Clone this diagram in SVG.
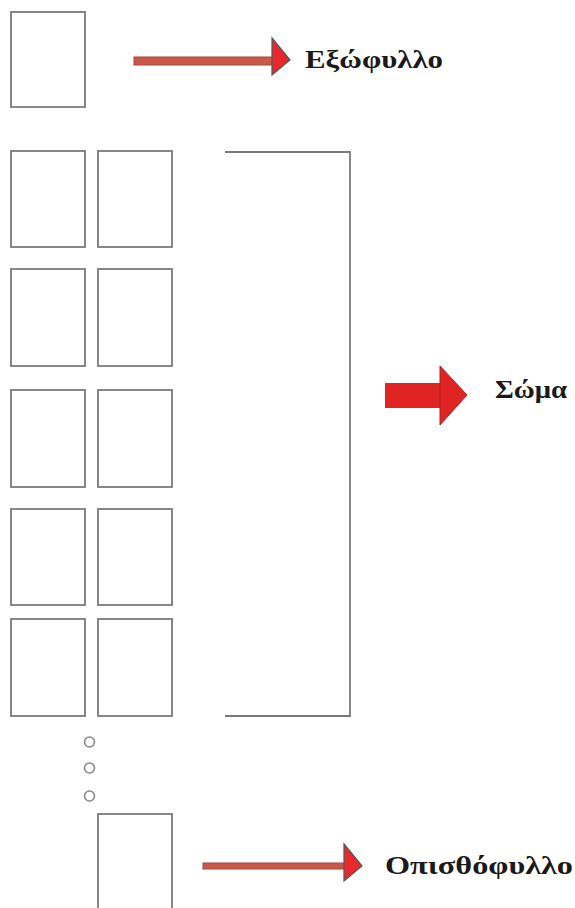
<svg xmlns="http://www.w3.org/2000/svg" width="575" height="908" viewBox="0 0 575 908">
<style>
.page{fill:#ffffff;stroke:#7a7a7a;stroke-width:1.8}
.br{fill:none;stroke:#7a7a7a;stroke-width:1.8}
.lbl{font-family:"Liberation Serif","DejaVu Serif",serif;font-weight:bold;fill:#1a1a1a;font-size:26px}
.shaft{fill:#c9584a;stroke:#a8473d;stroke-width:1}
.head{fill:#e8282a;stroke:#555;stroke-width:1.2}
.dot{fill:none;stroke:#888;stroke-width:1.6}
</style>
<rect width="575" height="908" fill="#ffffff"/>
<g id="cover"><rect class="page" x="11" y="12" width="74" height="95"/></g>
<g id="body-pages">
<rect class="page" x="11" y="151" width="74" height="96"/>
<rect class="page" x="98" y="151" width="74" height="96"/>
<rect class="page" x="11" y="269" width="74" height="97"/>
<rect class="page" x="98" y="269" width="74" height="97"/>
<rect class="page" x="11" y="390" width="74" height="97"/>
<rect class="page" x="98" y="390" width="74" height="97"/>
<rect class="page" x="11" y="509" width="74" height="96"/>
<rect class="page" x="98" y="509" width="74" height="96"/>
<rect class="page" x="11" y="619" width="74" height="97"/>
<rect class="page" x="98" y="619" width="74" height="97"/>
</g>
<g id="dots">
<circle class="dot" cx="89.5" cy="742" r="5"/>
<circle class="dot" cx="89.5" cy="768" r="5"/>
<circle class="dot" cx="89.5" cy="796" r="5"/>
</g>
<g id="back-cover"><rect class="page" x="98" y="814" width="74" height="100"/></g>
<g id="bracket"><path class="br" d="M225 152 H350 V716 H225"/></g>
<g id="connectors">
<g id="arrow-cover">
<rect class="shaft" x="134" y="57" width="139" height="8"/>
<path class="head" d="M272 38 L290 60 L272 75 Z"/>
</g>
<g id="arrow-body">
<rect x="385" y="383" width="57" height="25" fill="#e02424"/>
<path d="M440 366 L467 395 L440 425 Z" fill="#e02424" stroke="#b02020" stroke-width="1"/>
</g>
<g id="arrow-back">
<rect class="shaft" x="203" y="863" width="142" height="6"/>
<path class="head" d="M344 844 L362 866 L344 881 Z"/>
</g>
</g>
<g id="label-cover"><text class="lbl" x="305" y="68" textLength="138" lengthAdjust="spacingAndGlyphs">Εξώφυλλο</text></g>
<g id="label-body"><text class="lbl" x="495" y="398" textLength="72" lengthAdjust="spacingAndGlyphs">Σώμα</text></g>
<g id="label-back"><text class="lbl" x="385" y="874" textLength="188" lengthAdjust="spacingAndGlyphs">Οπισθόφυλλο</text></g>
</svg>
